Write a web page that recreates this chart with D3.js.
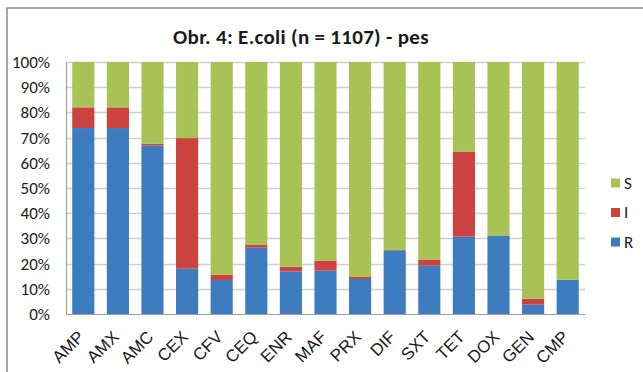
<!DOCTYPE html>
<html>
<head>
<meta charset="utf-8">
<script src="https://cdn.jsdelivr.net/npm/d3@7"></script>
<style>
  body { margin: 0; background: #fff; }
  text { font-family: Carlito, Calibri, Lato, "Liberation Sans", sans-serif; fill: #1a1a1a; }
</style>
</head>
<body>
<script>
// antibiotics and R / I / S shares (percent)
var drugs = ["AMP", "AMX", "AMC", "CEX", "CFV", "CEQ", "ENR", "MAF", "PRX", "DIF", "SXT", "TET", "DOX", "GEN", "CMP"];
var resistant    = [73.8, 73.8, 66.9, 18.0, 13.5, 26.3, 16.9, 17.2, 13.9, 25.3, 19.2, 30.7, 31.0, 3.7, 13.6];
var intermediate = [8.2, 8.2, 0.7, 51.8, 2.1, 1.1, 1.9, 4.0, 0.8, 0.2, 2.4, 33.6, 0.2, 2.4, 0.0];
var seriesNames = ["R", "I", "S"];
var yTicks = [0, 10, 20, 30, 40, 50, 60, 70, 80, 90, 100];

var colors = { R: "#3E7CC0", I: "#CB4240", S: "#A8C256" };

var width = 643, height = 372;
var margin = { top: 62, left: 66, right: 58, bottom: 58 };

var svg = d3.select("body").append("svg")
  .attr("width", width)
  .attr("height", height);

// chart frame
svg.append("path")
  .attr("d", "M7,372 V8 H643")
  .attr("fill", "none")
  .attr("stroke", "#8a8a8a")
  .attr("stroke-width", 1.5);

svg.append("text")
  .attr("x", 301)
  .attr("y", 44)
  .attr("text-anchor", "middle")
  .attr("font-size", 21)
  .attr("letter-spacing", 0.3)
  .attr("font-weight", "bold")
  .text("Obr. 4: E.coli (n = 1107) - pes");

var table = drugs.map(function(d, i) {
  return { drug: d, R: resistant[i], I: intermediate[i], S: 100 - resistant[i] - intermediate[i] };
});

var stack = d3.stack().keys(seriesNames);
var layers = stack(table);

var xScale = d3.scaleBand()
  .domain(drugs)
  .range([margin.left, width - margin.right])
  .paddingInner(0.36)
  .paddingOuter(0.18);

var yScale = d3.scaleLinear()
  .domain([0, 100])
  .range([height - margin.bottom, margin.top]);

// grid
svg.append("g")
  .selectAll("line")
  .data(yTicks.slice(1))
  .enter().append("line")
  .attr("x1", margin.left)
  .attr("x2", width - margin.right)
  .attr("y1", function(d) { return Math.round(yScale(d)) + 0.5; })
  .attr("y2", function(d) { return Math.round(yScale(d)) + 0.5; })
  .attr("stroke", "#cfcfcf")
  .attr("stroke-width", 1.3);

svg.append("g")
  .selectAll("g")
  .data(layers)
  .enter().append("g")
  .attr("fill", function(d) { return colors[d.key]; })
  .selectAll("rect")
  .data(function(d) { return d; })
  .enter().append("rect")
  .attr("x", function(d) { return xScale(d.data.drug); })
  .attr("width", xScale.bandwidth())
  .attr("y", function(d) { return yScale(d[1]); })
  .attr("height", function(d) { return yScale(d[0]) - yScale(d[1]); });

// y axis
var yAxis = svg.append("g")
  .attr("transform", "translate(" + margin.left + ",0)")
  .call(d3.axisLeft(yScale).tickValues(yTicks).tickFormat(function(d) { return d + "%"; }).tickSize(0).tickPadding(16));
yAxis.select(".domain").attr("stroke", "#a0a0a0").attr("stroke-width", 1.2);
yAxis.selectAll("text").attr("font-size", 17).attr("font-family", null).attr("fill", "#1a1a1a");

// x axis
var xAxis = svg.append("g")
  .attr("transform", "translate(0," + (height - margin.bottom) + ")")
  .call(d3.axisBottom(xScale).tickSize(0).tickPadding(0));
xAxis.select(".domain").attr("stroke", "#a0a0a0").attr("stroke-width", 1.2);
xAxis.selectAll("text")
  .attr("font-size", 17)
  .attr("font-family", null)
  .style("font-family", "'Liberation Sans', Arial, sans-serif")
  .attr("fill", "#1a1a1a")
  .attr("text-anchor", "end")
  .attr("dy", 0)
  .attr("y", 0)
  .attr("transform", "translate(2,24) rotate(-45)");

// legend
var legend = svg.append("g")
  .selectAll("g")
  .data(seriesNames.slice().reverse())
  .enter().append("g")
  .attr("transform", function(d, i) { return "translate(611," + (183 + i * 29.5) + ")"; });
legend.append("rect")
  .attr("x", 0).attr("y", -4.5)
  .attr("width", 9).attr("height", 9)
  .attr("fill", function(d) { return colors[d]; });
legend.append("text")
  .attr("x", 13)
  .attr("y", 0)
  .attr("dy", "0.35em")
  .attr("font-size", 17)
  .text(function(d) { return d; });
</script>
</body>
</html>
